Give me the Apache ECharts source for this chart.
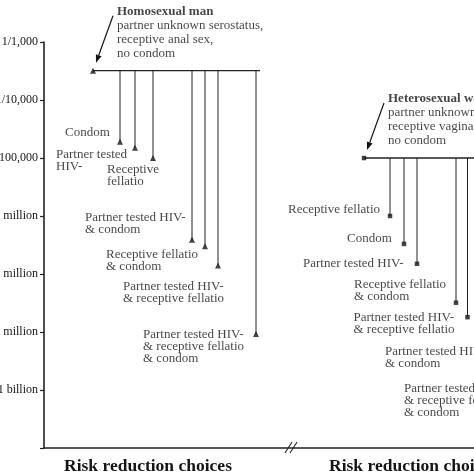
<!DOCTYPE html>
<html><head><meta charset="utf-8">
<script src="https://cdn.jsdelivr.net/npm/echarts@6/dist/echarts.min.js"></script>
<style>html,body{margin:0;padding:0;background:#fff}#c{width:474px;height:474px}</style>
</head><body><div id="c"></div>
<script>
// ---------- data ----------
const yTickLabels = ['1/1,000','1/10,000','1/100,000','1/1 million','1/10 million','1/100 million','1/1 billion'];
const xCategoryLabel = 'Risk reduction choices';
const xCategoryPositions = [104, 369];

const homoTitle = ['Homosexual man','partner unknown serostatus,','receptive anal sex,','no condom'];
const homoBaseX = 49;
const homoBaseRisk = 3.2e-4;
const homoLineEnd = 216;
const homoChoices = ['Condom','Partner tested\nHIV-','Receptive\nfellatio','Partner tested HIV-\n& condom','Receptive fellatio\n& condom','Partner tested HIV-\n& receptive fellatio','Partner tested HIV-\n& receptive fellatio\n& condom'];
const homoX = [76, 91, 109, 148, 161, 174, 212];
const homoRisk = [1.9e-5, 1.5e-5, 1.0e-5, 3.9e-7, 3.0e-7, 1.4e-7, 9.2e-9];

const heteroTitle = ['Heterosexual woman','partner unknown serostatus,','receptive vaginal sex,','no condom'];
const heteroBaseX = 320;
const heteroBaseRisk = 1.0e-5;
const heteroLineEnd = 470;
const heteroChoices = ['Receptive fellatio','Condom','Partner tested HIV-','Receptive fellatio\n& condom','Partner tested HIV-\n& receptive fellatio','Partner tested HIV-\n& condom','Partner tested HIV-\n& receptive fellatio\n& condom'];
const heteroX = [346, 360, 373, 412, 423.5, 440, 455];
const heteroRisk = [1.0e-6, 3.3e-7, 1.5e-7, 3.2e-8, 1.8e-8, 5.0e-9, 1.0e-9];

// ---------- label placement (px offsets from marker: left edge, first line centre) ----------
const homoLabelOffsets = [[-55,-9],[-79,7],[-46,12],[-107,-22],[-99,8],[-95,21],[-113,0]];
const heteroLabelOffsets = [[-102,-6],[-57,-5],[-114,0],[-102,-18],[-114,0],[-99,2],[-95,-1]];

const FONT = "'Liberation Serif','Times New Roman',serif";
const INK = '#151515';
const LH = 12;

function dropLines(xs, risks, baseRisk) {
  return {
    type: 'custom', coordinateSystem: 'cartesian2d', silent: true, z: 2,
    data: xs.map((x, i) => [x, risks[i]]),
    renderItem: (params, api) => {
      const x = api.value(0), r = api.value(1);
      const p0 = api.coord([x, baseRisk]), p1 = api.coord([x, r]);
      return {type: 'line', shape: {x1: p0[0], y1: p0[1], x2: p1[0], y2: p1[1]},
              style: {stroke: '#222', lineWidth: 1}};
    }
  };
}
function baseLine(x0, x1, r) {
  return {type: 'line', data: [[x0, r], [x1, r]], symbol: 'none', silent: true, z: 2,
          lineStyle: {color: '#222', width: 1.3}};
}
function endPoints(xs, risks, labels, offsets, symbol, size) {
  return {
    type: 'scatter', symbol: symbol, symbolSize: size, silent: true, z: 3,
    itemStyle: {color: INK},
    data: xs.map((x, i) => ({value: [x, risks[i]],
      label: {offset: [offsets[i][0], offsets[i][1] - LH / 2]}})),
    label: {show: true, position: 'inside', align: 'left', verticalAlign: 'top',
            formatter: p => labels[p.dataIndex],
            fontFamily: FONT, fontSize: 13, lineHeight: LH, color: INK}
  };
}
function basePoint(x, r, title, symbol, size) {
  return {
    type: 'scatter', symbol: symbol, symbolSize: size, silent: true, z: 3,
    itemStyle: {color: INK},
    data: [{value: [x, r]}],
    label: {show: true, position: 'inside', align: 'left', verticalAlign: 'top',
            offset: [24, -66],
            formatter: () => '{b|' + title[0] + '}\n' + title.slice(1).map(t => '{n|' + t + '}').join('\n'),
            rich: {b: {fontFamily: FONT, fontSize: 13, fontWeight: 'bold', lineHeight: 14, color: INK},
                   n: {fontFamily: FONT, fontSize: 13, lineHeight: 14, color: INK}}}
  };
}
function arrow(x, r) {
  return {
    type: 'custom', coordinateSystem: 'cartesian2d', silent: true, z: 4,
    data: [[x, r]],
    renderItem: (params, api) => {
      const p = api.coord([api.value(0), api.value(1)]);
      const tip = [p[0] + 3, p[1] - 8], tail = [p[0] + 20, p[1] - 55];
      const dx = tip[0] - tail[0], dy = tip[1] - tail[1], L = Math.hypot(dx, dy);
      const ux = dx / L, uy = dy / L, hl = 8, hw = 3;
      const bx = tip[0] - ux * hl, by = tip[1] - uy * hl;
      return {type: 'group', children: [
        {type: 'line', shape: {x1: tail[0], y1: tail[1], x2: bx, y2: by}, style: {stroke: INK, lineWidth: 1.2}},
        {type: 'polygon', shape: {points: [tip, [bx - uy * hw, by + ux * hw], [bx + uy * hw, by - ux * hw]]}, style: {fill: INK}}
      ]};
    }
  };
}

const chart = echarts.init(document.getElementById('c'), null, {renderer: 'canvas'});
chart.setOption({
  backgroundColor: '#fff',
  animation: false,
  grid: {left: 44, top: 42, width: 480, height: 406, containLabel: false, outerBoundsMode: 'none'},
  xAxis: {
    type: 'value', min: 0, max: 480,
    splitLine: {show: false},
    axisTick: {show: false},
    axisLine: {lineStyle: {color: '#222', width: 1.5}},
    axisLabel: {customValues: xCategoryPositions, formatter: () => xCategoryLabel,
                fontFamily: FONT, fontSize: 17.5, fontWeight: 'bold', color: INK, margin: 9}
  },
  yAxis: {
    type: 'log', logBase: 10, min: 1e-10, max: 1e-3,
    splitLine: {show: false},
    axisLine: {show: true, lineStyle: {color: '#222', width: 1.6}},
    axisTick: {show: true, length: 4, lineStyle: {color: '#222', width: 1.2}},
    axisLabel: {fontFamily: FONT, fontSize: 12, color: INK, margin: 6,
                formatter: v => { const k = -3 - Math.round(Math.log10(v)); return yTickLabels[k] || ''; }}
  },
  graphic: [
    {type: 'line', shape: {x1: 285, y1: 453, x2: 292, y2: 442}, style: {stroke: '#222', lineWidth: 1.1}, z: 10},
    {type: 'line', shape: {x1: 290, y1: 453, x2: 297, y2: 442}, style: {stroke: '#222', lineWidth: 1.1}, z: 10}
  ],
  series: [
    baseLine(homoBaseX, homoLineEnd, homoBaseRisk),
    dropLines(homoX, homoRisk, homoBaseRisk),
    endPoints(homoX, homoRisk, homoChoices, homoLabelOffsets, 'triangle', 6),
    basePoint(homoBaseX, homoBaseRisk, homoTitle, 'triangle', 6),
    arrow(homoBaseX, homoBaseRisk),
    baseLine(heteroBaseX, heteroLineEnd, heteroBaseRisk),
    dropLines(heteroX, heteroRisk, heteroBaseRisk),
    endPoints(heteroX, heteroRisk, heteroChoices, heteroLabelOffsets, 'rect', 4.5),
    basePoint(heteroBaseX, heteroBaseRisk, heteroTitle, 'rect', 4.5),
    arrow(heteroBaseX, heteroBaseRisk)
  ]
});
</script></body></html>
